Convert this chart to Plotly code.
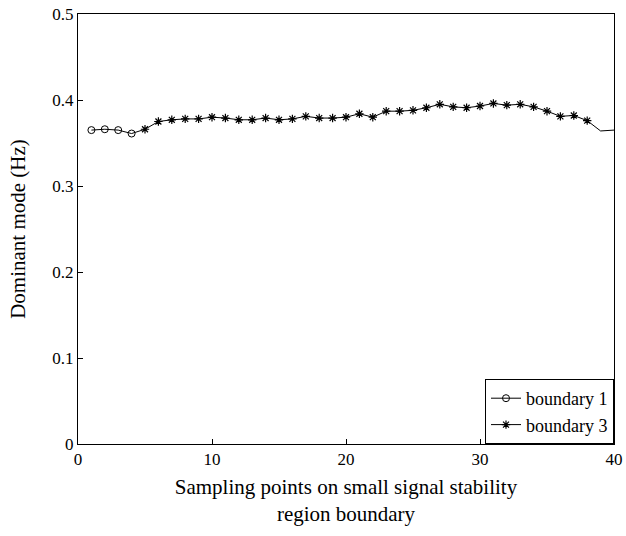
import plotly.graph_objects as go

# boundary 1 (circles)
b1_x = [1, 2, 3, 4]
b1_y = [0.365, 0.366, 0.365, 0.361]

# boundary 3 (stars)
b3_x = list(range(5, 39))
b3_y = [0.366, 0.375, 0.377, 0.378, 0.378, 0.380, 0.379, 0.377, 0.377, 0.379,
        0.377, 0.378, 0.381, 0.379, 0.379, 0.380, 0.384, 0.380, 0.387, 0.387,
        0.388, 0.391, 0.395, 0.392, 0.391, 0.393, 0.396, 0.394, 0.395, 0.392,
        0.387, 0.381, 0.382, 0.376]

# connecting segments without markers
tail_x = [38, 39, 40]
tail_y = [0.376, 0.364, 0.365]

font = "Liberation Serif"

fig = go.Figure()
fig.add_trace(go.Scatter(x=[b1_x[-1], b3_x[0]], y=[b1_y[-1], b3_y[0]], mode="lines",
                         line=dict(color="black", width=1), showlegend=False, hoverinfo="skip"))
fig.add_trace(go.Scatter(x=tail_x, y=tail_y, mode="lines",
                         line=dict(color="black", width=1), showlegend=False, hoverinfo="skip"))
fig.add_trace(go.Scatter(x=b1_x, y=b1_y, mode="lines+markers", name="boundary 1",
                         line=dict(color="black", width=1),
                         marker=dict(symbol="circle-open", size=7, color="black", line=dict(width=1))))
fig.add_trace(go.Scatter(x=b3_x, y=b3_y, mode="lines+markers", name="boundary 3",
                         line=dict(color="black", width=1),
                         marker=dict(symbol="asterisk-open", size=7, color="black", line=dict(width=1.2, color="black"))))

axis_common = dict(showgrid=False, zeroline=False, showline=True, linecolor="black", linewidth=1,
                   mirror=True, ticks="inside", ticklen=5, tickcolor="black", automargin=False,
                   tickfont=dict(family=font, size=17, color="black"))

fig.update_layout(
    width=626, height=536,
    margin=dict(l=78, r=12, t=14, b=92),
    paper_bgcolor="white", plot_bgcolor="white",
    font=dict(family=font, color="black"),
    xaxis=dict(range=[0, 40], tickvals=[0, 10, 20, 30, 40],
               title=dict(text="Sampling points on small signal stability<br>region boundary",
                          font=dict(family=font, size=21), standoff=10),
               **axis_common),
    yaxis=dict(range=[0, 0.5], tickvals=[0, 0.1, 0.2, 0.3, 0.4, 0.5],
               ticktext=["0", "0.1", "0.2", "0.3", "0.4", "0.5"],
               title=dict(text="Dominant mode (Hz)", font=dict(family=font, size=21), standoff=20),
               **axis_common),
    legend=dict(x=1, y=0, xanchor="right", yanchor="bottom", bordercolor="black", borderwidth=1,
                bgcolor="white", font=dict(family=font, size=18), tracegroupgap=0,
                itemwidth=30),
)

fig.write_html("out.html", config={"displayModeBar": False},
               post_script="document.body.style.margin='0';document.body.style.overflow='hidden';")
